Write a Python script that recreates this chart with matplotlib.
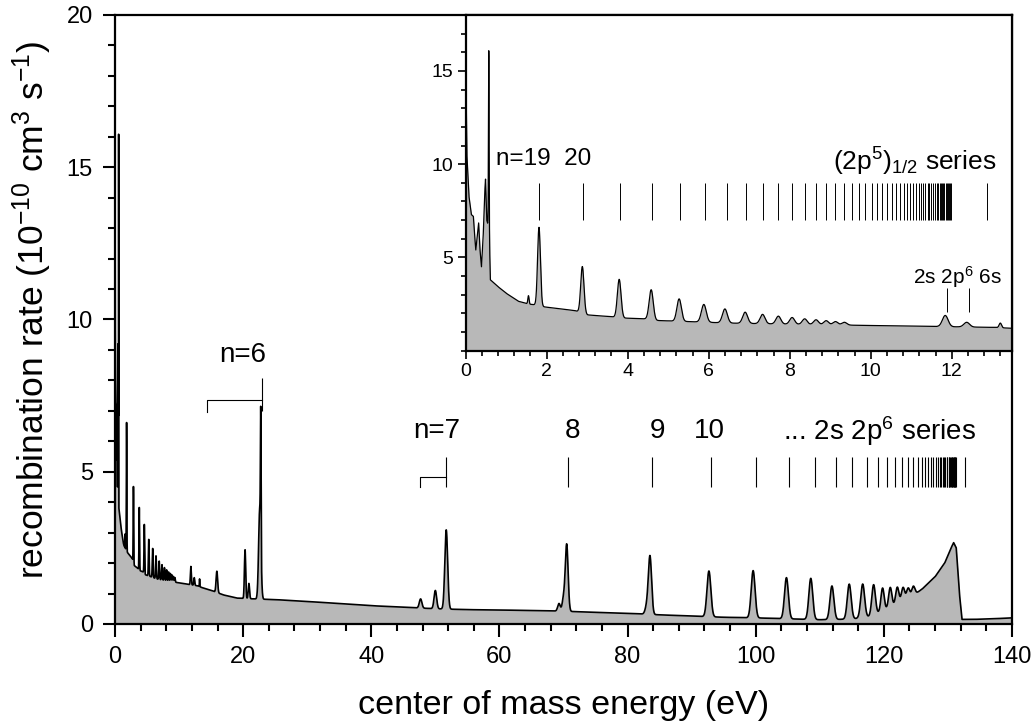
import numpy as np
import matplotlib

matplotlib.use("Agg")
import matplotlib.pyplot as plt
from matplotlib import font_manager
from matplotlib.ticker import MultipleLocator

# font: condensed Arial-like if available
names = {f.name for f in font_manager.fontManager.ttflist}
FONT = "Liberation Sans Narrow" if "Liberation Sans Narrow" in names else "Liberation Sans"
plt.rcParams["font.family"] = [FONT, "DejaVu Sans"]
plt.rcParams["mathtext.fontset"] = "custom"
plt.rcParams["mathtext.rm"] = FONT
plt.rcParams["mathtext.it"] = FONT
plt.rcParams["mathtext.default"] = "regular"

# --- data ----------------------------------------------------------------
# smooth underlying rate (eV, 1e-10 cm^3/s)
bg_x = [0.0, 0.03, 0.08, 0.14, 0.19, 0.22, 0.25, 0.29, 0.32, 0.35, 0.39, 0.43,
        0.47, 0.49, 0.52, 0.58, 0.61, 0.8, 1.0, 1.3, 1.55, 1.75, 1.9, 2.3, 2.7,
        3.0, 3.6, 3.9, 4.5, 4.7, 5.5, 6.5, 8.0, 10.0, 11.5, 13.0, 13.5, 15.0,
        17.0, 19.0, 22.0, 25.0, 30.0, 35.0, 40.0, 45.0, 50.0, 55.0, 60.0, 65.0,
        70.0, 75.0, 80.0, 85.0, 90.0, 95.0, 100.0, 105.0, 110.0, 115.0, 118.0,
        120.0, 122.0, 124.0, 126.0, 128.0, 129.5, 130.5, 130.9, 131.3, 131.8,
        132.2, 134.0, 137.0, 140.0]
bg_y = [15.5, 10.5, 8.3, 7.3, 7.2, 6.2, 5.4, 6.2, 6.85, 5.5, 4.5, 6.0,
        8.5, 9.2, 7.0, 6.5, 3.8, 3.43, 3.08, 2.65, 2.5, 2.45, 2.36, 2.25, 2.15,
        1.92, 1.82, 1.75, 1.7, 1.62, 1.56, 1.48, 1.42, 1.35, 1.3, 1.25, 1.2, 1.1,
        0.95, 0.85, 0.82, 0.8, 0.74, 0.67, 0.6, 0.55, 0.5, 0.47, 0.46, 0.44,
        0.42, 0.38, 0.35, 0.3, 0.26, 0.22, 0.2, 0.17, 0.14, 0.16, 0.25,
        0.45, 0.65, 0.85, 1.15, 1.55, 2.0, 2.5, 2.67, 2.5, 1.0,
        0.15, 0.15, 0.17, 0.2]

# resonances: position (eV), height above background, width (eV)
peak_pos = [0.57, 1.55, 1.81, 2.88, 3.79, 4.58, 5.27, 5.88, 6.40, 6.90, 7.33,
            7.72, 8.06, 8.37, 8.65, 8.90, 9.13, 9.35, 11.84, 12.37, 13.2,
            15.9, 20.3, 20.9, 22.6, 22.75, 47.7, 50.0, 51.7, 69.3, 70.0, 70.5,
            83.0, 83.5, 92.7, 99.6, 104.8, 108.6, 111.9, 114.6, 116.7, 118.4,
            119.8, 121.0, 122.1, 123.0, 123.8, 124.6]
peak_amp = [9.5, 0.45, 4.2, 2.5, 2.05, 1.6, 1.2, 0.95, 0.75, 0.6, 0.5,
            0.42, 0.36, 0.3, 0.26, 0.22, 0.18, 0.15, 0.6, 0.25, 0.25,
            0.7, 1.6, 0.5, 3.0, 4.2, 0.3, 0.6, 2.6, 0.25, 0.4, 2.2,
            0.25, 1.9, 1.5, 1.55, 1.35, 1.35, 1.1, 1.15, 1.1, 1.0,
            0.75, 0.65, 0.55, 0.45, 0.35, 0.3]
peak_wid = [0.008, 0.015, 0.035, 0.04, 0.045, 0.05, 0.055, 0.06, 0.06, 0.06,
            0.06, 0.06, 0.06, 0.06, 0.06, 0.06, 0.06, 0.06, 0.07, 0.07, 0.03,
            0.12, 0.1, 0.1, 0.18, 0.05, 0.2, 0.2, 0.22, 0.2, 0.2, 0.22,
            0.25, 0.25, 0.3, 0.3, 0.3, 0.3, 0.3, 0.3, 0.3, 0.28,
            0.25, 0.25, 0.25, 0.25, 0.25, 0.25]

# 2s 2p^6 nl series markers (main panel), n = 7 ... and series limit
series_main = [51.7, 70.7, 83.8, 93.1, 100.0, 105.2, 109.3, 112.5, 115.1,
               117.3, 119.1, 120.5, 121.8, 122.9, 123.8, 124.6, 125.3, 125.9,
               126.4, 126.9, 127.3, 127.7, 128.1, 128.4, 128.7, 128.9, 129.2,
               129.4, 129.6, 129.8, 129.9, 130.1, 130.2, 130.4, 130.5, 130.6,
               130.7, 130.8, 130.9, 131.0, 131.05, 131.1, 131.2, 132.7]
# (2p^5)_1/2 nl series markers (inset), n = 19 ... and series limit
series_inset = [1.82, 2.89, 3.80, 4.60, 5.29, 5.90, 6.44, 6.92, 7.34, 7.72,
                8.06, 8.37, 8.65, 8.90, 9.13, 9.34, 9.54, 9.71, 9.87, 10.02,
                10.16, 10.29, 10.41, 10.52, 10.62, 10.72, 10.81, 10.89, 10.97,
                11.05, 11.12, 11.18, 11.24, 11.30, 11.35, 11.41, 11.45, 11.50,
                11.54, 11.59, 11.63, 11.66, 11.70, 11.73, 11.76, 11.79, 11.82,
                11.85, 11.88, 11.91, 11.93, 11.95, 11.98, 12.87]
sat_inset = [11.88, 12.43]   # 2s 2p^6 6s


def spectrum(x):
    y = np.interp(x, bg_x, bg_y)
    for p, a, w in zip(peak_pos, peak_amp, peak_wid):
        y = y + a * np.exp(-0.5 * ((x - p) / w) ** 2)
    return y


FILL = "#b8b8b8"
x_main = np.arange(0.0, 140.0001, 0.01)
x_ins = np.arange(0.0, 13.5001, 0.002)

fig = plt.figure(figsize=(10.36, 7.28), dpi=100)
ax = fig.add_axes([0.1110, 0.1429, 0.8658, 0.8365])
ax.fill_between(x_main, spectrum(x_main), 0, color=FILL, lw=0)
ax.plot(x_main, spectrum(x_main), color="black", lw=1.2)
ax.set_xlim(0, 140)
ax.set_ylim(0, 20)
ax.xaxis.set_major_locator(MultipleLocator(20))
ax.xaxis.set_minor_locator(MultipleLocator(4))
ax.yaxis.set_major_locator(MultipleLocator(5))
ax.yaxis.set_minor_locator(MultipleLocator(1))
ax.tick_params(which="both", direction="out", width=1.5, top=False, right=False)
ax.tick_params(which="major", length=9, labelsize=17, pad=7)
ax.tick_params(which="minor", length=5)
for s in ax.spines.values():
    s.set_linewidth(1.6)
ax.set_xlabel("center of mass energy (eV)", fontsize=24.5, labelpad=16)
ax.set_ylabel(r"recombination rate (10$^{-10}$ cm$^3$ s$^{-1}$)", fontsize=25.5, labelpad=12)
ax.yaxis.set_label_coords(-0.068, 0.515)

# series markers, main panel
ax.vlines(series_main, 4.5, 5.5, color="black", lw=0.8)
ax.plot([47.6, 47.6, 51.7], [4.5, 4.84, 4.84], color="black", lw=0.8)
ax.plot([14.4, 14.4, 22.9], [6.97, 7.36, 7.36], color="black", lw=0.8)
ax.vlines([22.9], 7.0, 8.07, color="black", lw=0.8)
ax.text(19.9, 8.83, "n=6", fontsize=20, ha="center", va="center")
ax.text(50.2, 6.35, "n=7", fontsize=20, ha="center", va="center")
ax.text(71.4, 6.35, "8", fontsize=20, ha="center", va="center")
ax.text(84.6, 6.35, "9", fontsize=20, ha="center", va="center")
ax.text(92.8, 6.35, "10", fontsize=20, ha="center", va="center")
ax.text(119.3, 6.35, r"... 2s 2p$^6$ series", fontsize=20, ha="center", va="center")

# inset: low-energy part
ins = fig.add_axes([0.4495, 0.5183, 0.5278, 0.4611])
ins.fill_between(x_ins, spectrum(x_ins), 0, color=FILL, lw=0)
ins.plot(x_ins, spectrum(x_ins), color="black", lw=0.9)
ins.set_xlim(0, 13.5)
ins.set_ylim(0, 18)
ins.set_xticks([0, 2, 4, 6, 8, 10, 12])
ins.set_yticks([5, 10, 15])
ins.xaxis.set_minor_locator(MultipleLocator(0.4))
ins.yaxis.set_minor_locator(MultipleLocator(1))
ins.tick_params(which="both", direction="out", width=1.2, top=False, right=False)
ins.tick_params(which="major", length=6, labelsize=14, pad=3)
ins.tick_params(which="minor", length=3.5)
for s in ins.spines.values():
    s.set_linewidth(1.6)
ins.vlines(series_inset, 7.0, 9.0, color="black", lw=0.7)
ins.vlines(sat_inset, 2.09, 3.35, color="black", lw=0.7)
ins.text(0.74, 10.3, "n=19  20", fontsize=17.5, ha="left", va="center")
ins.text(13.1, 10.1, r"(2p$^5$)$_{1/2}$ series", fontsize=19, ha="right", va="center")
ins.text(13.25, 3.97, r"2s 2p$^6$ 6s", fontsize=15, ha="right", va="center")

fig.savefig("out.png", dpi=100)
